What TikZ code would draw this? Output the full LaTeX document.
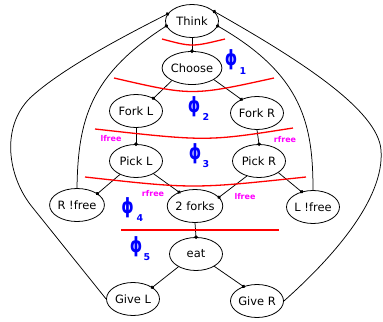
\documentclass[tikz,border=0pt]{standalone}
\usepackage{fontspec}
\setmainfont{DejaVu Sans}
\usetikzlibrary{arrows.meta,shapes.geometric}
\definecolor{guardcol}{RGB}{255,0,255}
\definecolor{phicol}{RGB}{0,0,255}
\definecolor{cutcol}{RGB}{255,0,0}
\tikzset{
  state/.style={draw, ellipse, line width=0.8bp, minimum width=53bp, minimum height=33bp, inner sep=0pt,
    font=\fontsize{11.5}{13}\selectfont},
  dotend/.style={line width=0.75bp, -{Circle[length=3.6bp]}, shorten >=-1.8bp},
  cut/.style={cutcol, line width=1.3bp},
  phi/.style={phicol, inner sep=0pt, font=\fontsize{21}{23}\selectfont\bfseries, xscale=0.75},
  phisub/.style={phicol, inner sep=0pt, font=\fontsize{9.5}{10}\selectfont\bfseries},
  guard/.style={guardcol, inner sep=0pt, font=\fontsize{8}{9}\selectfont\bfseries},
}
\begin{document}
\begin{tikzpicture}[x=1bp, y=-1bp]
\useasboundingbox (0,0) rectangle (383,322);
% states
\node[state] (think) at (192,21) {Think};
\node[state] (choose) at (192,68) {Choose};
\node[state] (forkl) at (136,111) {Fork L};
\node[state] (forkr) at (257,113) {Fork R};
\node[state] (pickl) at (136,161) {Pick L};
\node[state] (pickr) at (259,161) {Pick R};
\node[state] (rnf) at (77,205) {R !free};
\node[state] (two) at (195,206) {2 forks};
\node[state] (lnf) at (313,207) {L !free};
\node[state] (eat) at (196,254) {eat};
\node[state] (givel) at (133,299) {Give L};
\node[state] (giver) at (257,301) {Give R};
% connectors
\draw[dotend] (think.south) -- (choose.north);
\draw[dotend] (choose.212) -- (forkl.36);
\draw[dotend] (choose.332) -- (forkr.139);
\draw[dotend] (forkl.south) -- (pickl.north);
\draw[dotend] (forkr.south) -- (pickr.north);
\draw[dotend] (pickl.220) -- (rnf.29);
\draw[dotend] (pickl.324) -- (two.139);
\draw[dotend] (pickr.231) -- (two.20);
\draw[dotend] (pickr.329) -- (lnf.127);
\draw[dotend] (two.south) -- (eat.north);
\draw[dotend] (eat.216) -- (givel.31);
\draw[dotend] (eat.326) -- (giver.133);
\draw[dotend] (rnf.north) .. controls (78,120) and (90,75) .. (think.191);
\draw[dotend] (lnf.north) .. controls (313,125) and (303,75) .. (think.349);
\draw[dotend] (givel.west) -- (33,208) .. controls (8,178) and (0,128) .. (30,98)
   .. controls (60,70) and (120,38) .. (think.164);
\draw[dotend] (giver.east) .. controls (330,260) and (385,200) .. (381,150)
   .. controls (378,110) and (300,60) .. (think.23);
% cuts
\draw[cut] (162,39) .. controls (192,47) .. (225,39);
\draw[cut] (114,78) .. controls (192,96) .. (274,78);
\draw[cut] (95,129) .. controls (207,141.5) .. (293,128);
\draw[cut] (85,177) .. controls (193,189) .. (306,177);
\draw[cut] (121,230) -- (279,230);
% phi labels
\node[phi] (f1) at (231,60) {ϕ};
\node[phisub] (s1) at (243,71) {1};
\node[phi] (f2) at (194,107) {ϕ};
\node[phisub] (s2) at (206,117) {2};
\node[phi] (f3) at (195,154) {ϕ};
\node[phisub] (s3) at (206,164) {3};
\node[phi] (f4) at (127.5,208) {ϕ};
\node[phisub] (s4) at (140,218) {4};
\node[phi] (f5) at (136,247) {ϕ};
\node[phisub] (s5) at (147,257) {5};
% guards
\node[guard] (g1) at (111,139) {lfree};
\node[guard] (g2) at (285,140) {rfree};
\node[guard] (g3) at (153,194) {rfree};
\node[guard] (g4) at (245,197) {lfree};
\end{tikzpicture}
\end{document}
